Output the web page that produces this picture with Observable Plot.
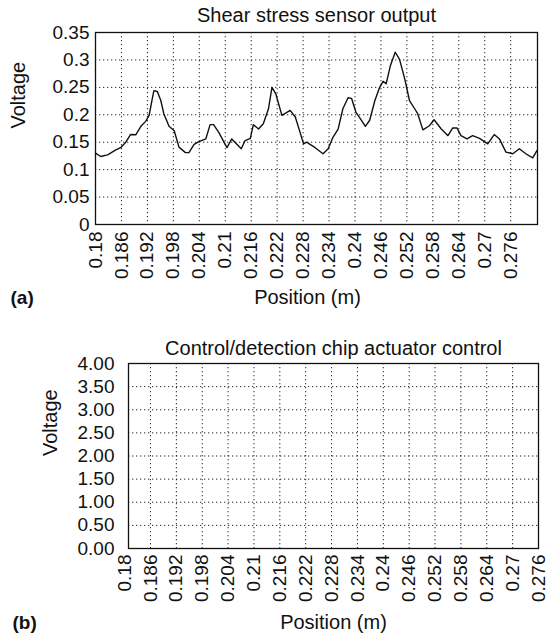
<!DOCTYPE html>
<html>
<head>
<meta charset="utf-8">
<script src="https://cdn.jsdelivr.net/npm/d3@7"></script>
<script src="https://cdn.jsdelivr.net/npm/@observablehq/plot@0.6"></script>
<style>
  html, body { margin: 0; padding: 0; background: #fff; overflow: hidden; }
  #chart svg { display: block; }
</style>
</head>
<body>
<div id="chart"></div>
<script>
// ---- data ----
const positionA = [0.1800,0.1812,0.1828,0.1847,0.1858,0.1870,0.1881,0.1893,0.1905,0.1916,0.1924,0.1932,0.1935,0.1943,0.1951,0.1958,0.1970,0.1982,0.1993,0.2008,0.2016,0.2028,0.2039,0.2055,0.2065,0.2073,0.2085,0.2104,0.2115,0.2137,0.2146,0.2158,0.2165,0.2177,0.2188,0.2200,0.2208,0.2217,0.2231,0.2250,0.2262,0.2273,0.2281,0.2288,0.2308,0.2326,0.2338,0.2349,0.2361,0.2372,0.2384,0.2392,0.2402,0.2415,0.2424,0.2434,0.2446,0.2457,0.2465,0.2472,0.2482,0.2493,0.2503,0.2515,0.2526,0.2538,0.2545,0.2557,0.2572,0.2583,0.2599,0.2615,0.2626,0.2636,0.2645,0.2659,0.2672,0.2688,0.2707,0.2722,0.2734,0.2749,0.2765,0.2780,0.2795,0.2811,0.2821];
const voltageA = [0.130,0.124,0.127,0.136,0.140,0.150,0.164,0.1635,0.179,0.188,0.199,0.232,0.244,0.2425,0.226,0.202,0.179,0.171,0.141,0.131,0.131,0.146,0.151,0.156,0.182,0.182,0.168,0.140,0.156,0.138,0.153,0.157,0.182,0.174,0.1835,0.211,0.250,0.238,0.199,0.208,0.196,0.168,0.147,0.150,0.140,0.129,0.138,0.159,0.174,0.211,0.231,0.230,0.205,0.190,0.179,0.190,0.226,0.250,0.261,0.2565,0.290,0.314,0.301,0.2655,0.226,0.211,0.202,0.1725,0.180,0.191,0.1745,0.162,0.176,0.176,0.162,0.156,0.162,0.157,0.147,0.164,0.156,0.132,0.129,0.138,0.129,0.1215,0.135];
const xTicks = [0.18,0.186,0.192,0.198,0.204,0.21,0.216,0.222,0.228,0.234,0.24,0.246,0.252,0.258,0.264,0.27,0.276];
const yTicksA = [0,0.05,0.1,0.15,0.2,0.25,0.3,0.35];
const yTicksB = [0,0.5,1,1.5,2,2.5,3,3.5,4];
const titleA = "Shear stress sensor output";
const titleB = "Control/detection chip actuator control";
const xLabel = "Position (m)";
const yLabel = "Voltage";

const rowsA = positionA.map((p, i) => ({position: p, voltage: voltageA[i]}));

const FONT = "'Liberation Sans', Arial, Helvetica, sans-serif";
const grid = {stroke: "#000", strokeOpacity: 0.85, strokeWidth: 1, strokeDasharray: "1.3,2.7"};

function labels({title, tag, dxY, dxTag, dyTitle, dyBottom, dxLabel}) {
  return [
    Plot.text([title], {frameAnchor: "top", dy: dyTitle, fontSize: 20, fill: "#111"}),
    Plot.text([yLabel], {frameAnchor: "left", rotate: -90, dx: dxY, fontSize: 20, fill: "#111"}),
    Plot.text([xLabel], {frameAnchor: "bottom", dx: dxLabel, dy: dyBottom, fontSize: 20, fill: "#111"}),
    Plot.text([tag], {frameAnchor: "bottom-left", textAnchor: "start", dx: dxTag, dy: dyBottom, fontSize: 19, fontWeight: "bold", fill: "#111"})
  ];
}

const plotA = Plot.plot({
  width: 548, height: 310,
  marginTop: 32, marginBottom: 86, marginLeft: 95, marginRight: 11,
  style: {fontFamily: FONT, fontSize: "19px", color: "#111", background: "#fff"},
  x: {domain: [0.18, 0.2822], label: null},
  y: {domain: [0, 0.35], label: null},
  marks: [
    Plot.gridX(xTicks, grid),
    Plot.gridY(yTicksA, grid),
    Plot.line(rowsA, {x: "position", y: "voltage", stroke: "#111", strokeWidth: 1.4}),
    Plot.frame({stroke: "#111", strokeWidth: 1.3}),
    Plot.axisX(xTicks, {tickSize: 0, tickPadding: 7, tickRotate: -90, tickFormat: d => String(d), label: null}),
    Plot.axisY(yTicksA, {tickSize: 0, tickPadding: 6, tickFormat: d => String(d), label: null}),
    ...labels({title: titleA, tag: "(a)", dxY: -77, dxTag: -85, dyTitle: -25, dyBottom: 79, dxLabel: -9})
  ]
});

const plotB = Plot.plot({
  width: 548, height: 324,
  marginTop: 53, marginBottom: 86, marginLeft: 128, marginRight: 10,
  style: {fontFamily: FONT, fontSize: "19px", color: "#111", background: "#fff"},
  x: {domain: [0.1809, 0.276], label: null},
  y: {domain: [0, 4], label: null},
  marks: [
    Plot.gridX(xTicks.slice(1), grid),
    Plot.gridY(yTicksB, grid),
    Plot.frame({stroke: "#111", strokeWidth: 1.3}),
    Plot.axisX(xTicks, {tickSize: 0, tickPadding: 6, tickRotate: -90, tickFormat: d => String(d), label: null}),
    Plot.axisY(yTicksB, {tickSize: 0, tickPadding: 14, tickFormat: d3.format(".2f"), label: null}),
    ...labels({title: titleB, tag: "(b)", dxY: -78, dxTag: -116, dyTitle: -23, dyBottom: 80, dxLabel: 0})
  ]
});

const chart = document.getElementById("chart");
chart.appendChild(plotA);
chart.appendChild(plotB);
</script>
</body>
</html>
